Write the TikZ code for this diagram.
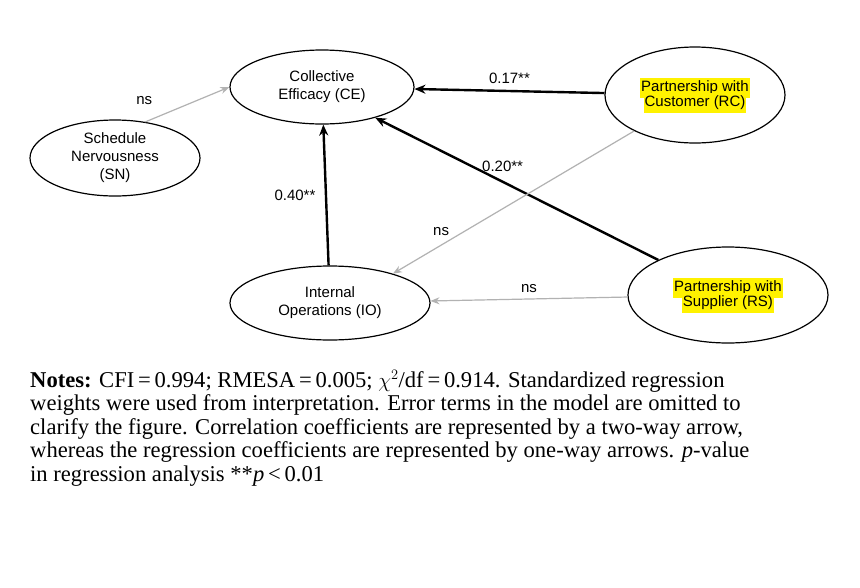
\documentclass[tikz,border=0pt]{standalone}
\usepackage{fontspec}
\setmainfont{Liberation Serif}
\setsansfont{Liberation Sans}
\usetikzlibrary{shapes.geometric,arrows.meta}
\begin{document}
\setlength{\fboxsep}{1pt}
\begin{tikzpicture}[x=1pt,y=-1pt,
  el/.style={ellipse,draw,line width=1.2pt,font=\sffamily\fontsize{15}{18}\selectfont,align=center,inner sep=0pt},
  gr/.style={draw=gray!60,line width=1.2pt,-{Stealth[length=9pt,width=7pt]}},
  bk/.style={draw=black,line width=2.4pt,-{Stealth[length=11pt,width=9pt]}},
  lb/.style={font=\sffamily\fontsize{15}{18}\selectfont}]
\useasboundingbox[fill=white] (0,0) rectangle (860,587);
\node[el,minimum width=184,minimum height=74] (CE) at (322,87) {Collective\\Efficacy (CE)};
\node[el,minimum width=170,minimum height=76] (SN) at (115,158) {Schedule\\Nervousness\\(SN)};
\node[el,minimum width=180,minimum height=96] (RC) at (695,95) {\colorbox{yellow}{\strut Partnership with}\\[-6pt]\colorbox{yellow}{\strut Customer (RC)}};
\node[el,minimum width=200,minimum height=74] (IO) at (330,303) {Internal\\Operations (IO)};
\node[el,minimum width=200,minimum height=96] (RS) at (728,295) {\colorbox{yellow}{\strut Partnership with}\\[-6pt]\colorbox{yellow}{\strut Supplier (RS)}};
\draw[gr] (SN.50) -- (CE.west) node[lb,pos=0.2,above left=6pt]{ns};
\draw[bk] (RC) -- (CE) node[lb,midway,above=3pt]{0.17**};
\draw[bk] (RS) -- (CE.-30) node[lb,pos=0.55,above=6pt]{0.20**};
\draw[gr] (RC) -- (IO.25) node[lb,pos=0.8,above=6pt]{ns};
\draw[bk] (IO) -- (CE.-88) node[lb,midway,left=6pt]{0.40**};
\draw[gr] (RS) -- (IO) node[lb,midway,above=2pt]{ns};
\node[anchor=north west,align=left,font=\fontsize{22.6}{23.5}\selectfont,inner sep=0pt] (notes) at (30,370)
{\textbf{Notes:} CFI\,=\,0.994; RMESA\,=\,0.005; $\chi^2$/df\,=\,0.914. Standardized regression\\
weights were used from interpretation. Error terms in the model are omitted to\\
clarify the figure. Correlation coefficients are represented by a two-way arrow,\\
whereas the regression coefficients are represented by one-way arrows. \textit{p}-value\\
in regression analysis **\textit{p}\,<\,0.01};
\end{tikzpicture}
\end{document}
